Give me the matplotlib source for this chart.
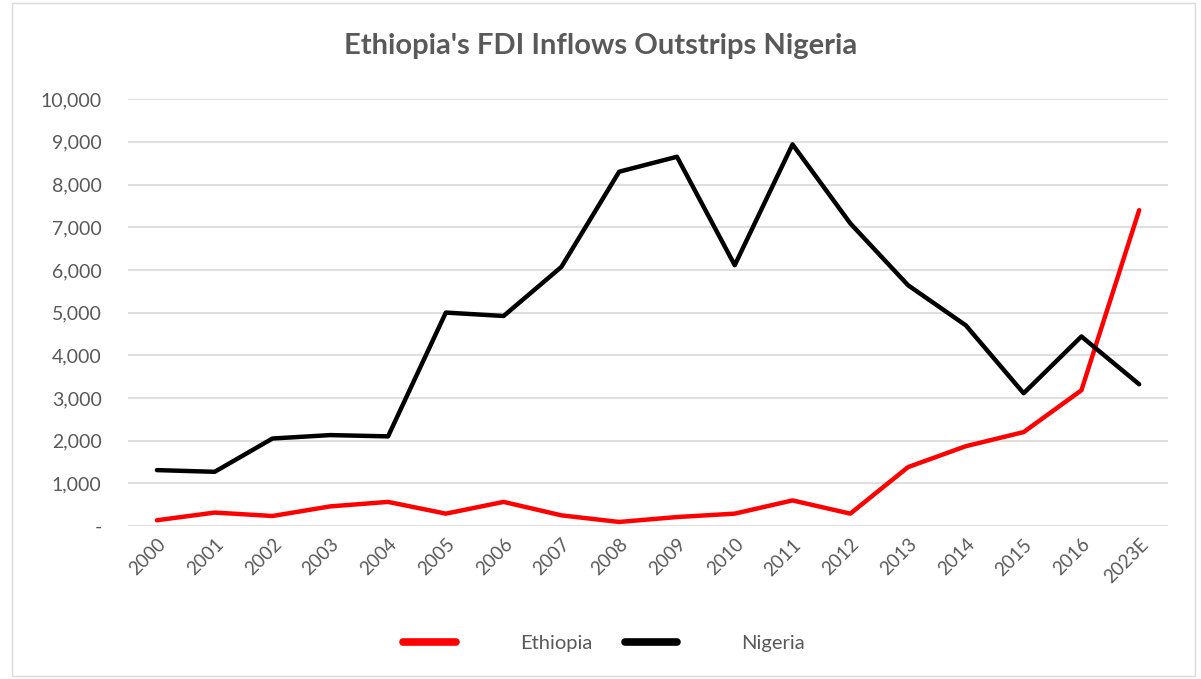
import matplotlib
matplotlib.use("Agg")
import matplotlib.pyplot as plt
from matplotlib.patches import Rectangle
from matplotlib.ticker import FuncFormatter

plt.rcParams['font.family'] = ['Lato', 'DejaVu Sans']

# 数据
years = ['2000', '2001', '2002', '2003', '2004', '2005', '2006', '2007', '2008',
         '2009', '2010', '2011', '2012', '2013', '2014', '2015', '2016', '2023E']
ethiopia = [135, 315, 235, 460, 565, 290, 565, 250, 95,
            210, 290, 600, 290, 1380, 1870, 2200, 3180, 7400]
nigeria = [1310, 1270, 2050, 2130, 2100, 5000, 4920, 6070, 8300,
           8650, 6110, 8940, 7090, 5640, 4700, 3110, 4440, 3320]

grey = '#595959'

fig = plt.figure(figsize=(12.01, 6.79), dpi=100)
ax = fig.add_axes([0.1066, 0.2253, 0.866, 0.6287])

x = range(len(years))
ax.plot(x, ethiopia, color='#ff0000', lw=3.2, label='Ethiopia', solid_capstyle='round')
ax.plot(x, nigeria, color='black', lw=3.2, label='Nigeria', solid_capstyle='round')

ax.set_xlim(-0.5, len(years) - 0.5)
ax.set_ylim(0, 10000)
ax.set_yticks(range(0, 10001, 1000))
ax.yaxis.set_major_formatter(FuncFormatter(lambda v, p: '-' if v == 0 else f'{v:,.0f}'))
ax.set_xticks(list(x))
ax.set_xticklabels(years, rotation=45, ha='right', va='top', rotation_mode='anchor')

ax.grid(axis='y', color='#d9d9d9', lw=1.2)
ax.set_axisbelow(True)
for s in ax.spines.values():
    s.set_visible(False)
ax.tick_params(axis='both', length=0, colors=grey, labelsize=14)
ax.tick_params(axis='x', labelsize=13.5, pad=7)
ax.tick_params(axis='y', pad=19)

fig.text(0.5, 0.932, "Ethiopia's FDI Inflows Outstrips Nigeria", ha='center', va='center',
         fontsize=21, fontweight='bold', color=grey)

leg = fig.legend(loc='center', bbox_to_anchor=(0.503, 0.052), ncol=2, frameon=False,
                 handlelength=2.6, handletextpad=3.2, columnspacing=1.6,
                 fontsize=14.5, labelcolor=grey)
for h in leg.get_lines():
    h.set_linewidth(5.5)
    h.set_solid_capstyle('round')

# 外框
fig.patches.append(Rectangle((12 / 1201, 0.004), 1183 / 1201, 0.992, transform=fig.transFigure,
                             fill=False, edgecolor='#d9d9d9', lw=1))

fig.savefig('out.png', dpi=100)
